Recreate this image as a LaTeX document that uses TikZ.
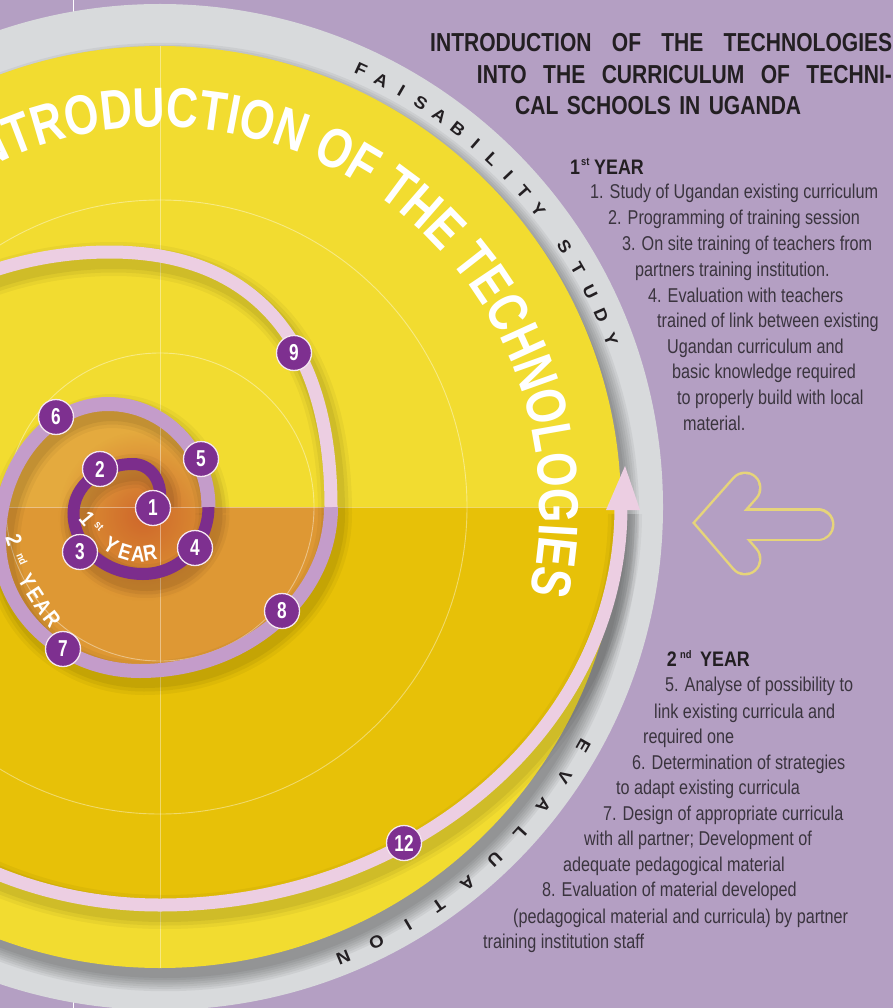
\documentclass[tikz,border=0pt]{standalone}
\usepackage{fontspec}
\setmainfont{Liberation Sans}
\newfontfamily\bigfamily[FakeStretch=0.79]{Liberation Sans}
\newfontfamily\titlefamily[FakeStretch=0.81]{Liberation Sans}
\newfontfamily\headfamily[FakeStretch=0.85]{Liberation Sans}
\newfontfamily\bodyfamily[FakeStretch=0.81]{Liberation Sans}
\newfontfamily\numfamily[FakeStretch=0.75]{Liberation Sans}
\newfontfamily\ringfamily[FakeStretch=1.1]{Liberation Sans}
\usetikzlibrary{calc,decorations.text,fadings}

\definecolor{bgpurple}{RGB}{180,159,195}
\definecolor{ringgray}{RGB}{216,218,220}
\definecolor{yellowtop}{RGB}{242,220,48}
\definecolor{yellowlow}{RGB}{231,193,8}
\definecolor{orangeup}{RGB}{228,170,62}
\definecolor{orangelow}{RGB}{222,152,52}
\definecolor{redorange}{RGB}{205,98,42}
\definecolor{darkpurple}{RGB}{124,45,140}
\definecolor{lilac}{RGB}{196,156,202}
\definecolor{pinkring}{RGB}{236,206,226}
\definecolor{nodepurple}{RGB}{126,48,144}
\definecolor{textdark}{RGB}{35,31,34}
\definecolor{bodytext}{RGB}{58,52,62}
\definecolor{arrowline}{RGB}{230,212,122}

\tikzfading[name=glowfade, inner color=transparent!0, outer color=transparent!100]

\newcommand*\pathDark{(160,-500) .. controls (162,-480) and (150,-464) .. (133,-464) .. controls (100.1,-464) and (73.5,-485.9) .. (73.5,-513) .. controls (73.5,-546.7) and (104.6,-574) .. (143,-574) .. controls (179.2,-574) and (208.5,-544) .. (208.5,-507)}
\newcommand*\pathLilac{(208.5,-507) .. controls (208.5,-450.1) and (163.5,-404) .. (108,-404) .. controls (47.8,-404) and (-1,-464.9) .. (-1,-540) .. controls (-1,-612.4) and (62.1,-671) .. (140,-671) .. controls (245.5,-671) and (331,-597.6) .. (331,-507)}
\newcommand*\pathPink{(331,-507) .. controls (331,-341.3) and (253.7,-252) .. (110,-252) .. controls (-77.8,-252) and (-230,-389.9) .. (-230,-560) .. controls (-230,-750.5) and (-55.4,-905) .. (160,-905) .. controls (414.6,-905) and (621,-726.8) .. (621,-507)}

\begin{document}
\begin{tikzpicture}[x=1pt,y=1pt,
  numnode/.style={circle, fill=nodepurple, draw=pinkring!50!white, line width=1.3pt, minimum size=35pt, inner sep=0pt, text=white, font=\numfamily\bfseries\fontsize{23}{23}\selectfont},
  ringletter/.style={text=textdark, inner sep=0pt, font=\ringfamily\bfseries\fontsize{17}{17}\selectfont},
  yearletter/.style={text=white, inner sep=0pt, font=\headfamily\bfseries\fontsize{22}{22}\selectfont},
  yearsup/.style={text=white, inner sep=0pt, font=\headfamily\bfseries\fontsize{11}{11}\selectfont},
  bodyline/.style={anchor=base west, inner sep=0pt, text=bodytext, font=\bodyfamily\fontsize{20}{24}\selectfont},
  titleline/.style={anchor=base west, inner sep=0pt, text=textdark, font=\titlefamily\bfseries\fontsize{26}{30}\selectfont},
  headline/.style={anchor=base west, inner sep=0pt, text=textdark, font=\headfamily\bfseries\fontsize{21}{24}\selectfont},
  headsup/.style={anchor=base west, inner sep=0pt, text=textdark, font=\headfamily\bfseries\fontsize{11}{12}\selectfont},
  thinline/.style={white, opacity=0.4, line width=0.9pt}
]
\useasboundingbox (0,0) rectangle (893,-1008);
\clip (0,0) rectangle (893,-1008);
\fill[bgpurple] (0,0) rectangle (893,-1008);
\coordinate (C) at (160,-507);

% crop marks
\draw[white, line width=1pt] (73,0) -- (73,-30);
\draw[white, line width=1pt] (73,-980) -- (73,-1008);

% gray ring
\fill[ringgray] (C) circle (503);
\foreach \k in {0,...,6} {
  \fill[black, opacity=0.05] (165,-517) circle ({461+2.2*\k});
}

% yellow disc
\fill[yellowtop] (C) circle (461);
\begin{scope}
  \clip (C) circle (461);
  \fill[yellowlow] (0,-507) -- (621,-507) .. controls (621,-726.8) and (414.6,-905) .. (160,-905) .. controls (-55.4,-905) and (-230,-750.5) .. (-230,-560) -- (-230,-507) -- cycle;
  \fill[orangeup] \pathLilac -- cycle;
  \begin{scope}
    \clip (-10,-507) rectangle (400,-720);
    \fill[orangelow] \pathLilac -- cycle;
  \end{scope}
  \fill[redorange, path fading=glowfade, fill opacity=0.9] (143,-516) circle (85);
  % thin guide lines
  \draw[thinline] (0,-507) -- (621,-507);
  \draw[thinline] (160,-45) -- (160,-968);
  \draw[thinline] (C) circle (154);
  \draw[thinline] (C) circle (307);
\end{scope}

% ring shadows
\begin{scope}[shift={(4,-7)}]
  \foreach \w/\o in {34/0.04,27/0.05,20/0.06} {
    \draw[black, opacity=\o, line width=\w] \pathDark;
    \draw[black, opacity=\o, line width=\w] \pathLilac;
    \draw[black, opacity=\o, line width=\w] \pathPink;
  }
\end{scope}

% spiral rings
\draw[darkpurple, line width=12] \pathDark;
\draw[lilac, line width=14] \pathLilac;
\draw[pinkring, line width=13] \pathPink;
\fill[pinkring] (606,-510) -- (640,-510) -- (625,-466) -- cycle;

% big curved title
\path[decorate, decoration={text along path, text align=left,
  text={|\bigfamily\bfseries\fontsize{56}{60}\selectfont\color{white}|INTRODUCTION OF THE TECHNOLOGIES}}]
  ($(C)+(119.5:380)$) arc[start angle=119.5, end angle=-25, radius=380];

% year labels inside rings
\node[yearletter, rotate=-50] (y1a) at (87,-519) {1};
\node[yearsup, rotate=-45] (y1b) at (99,-526) {st};
\node[yearletter, rotate=-32] (y1c) at (111,-545) {Y};
\node[yearletter, rotate=-17] (y1d) at (125,-552) {E};
\node[yearletter, rotate=-3] (y1e) at (138,-554) {A};
\node[yearletter, rotate=10] (y1f) at (150,-553) {R};

\node[yearletter, rotate=-72] (y2a) at (14,-540) {2};
\node[yearsup, rotate=-66] (y2b) at (22,-559) {nd};
\node[yearletter, rotate=-60] (y2c) at (27,-581) {Y};
\node[yearletter, rotate=-57] (y2d) at (35,-595) {E};
\node[yearletter, rotate=-55] (y2e) at (43,-607) {A};
\node[yearletter, rotate=-52] (y2f) at (52,-619) {R};

% numbered nodes
\node[numnode] (n1) at (153,-508) {1};
\node[numnode] (n2) at (100,-469) {2};
\node[numnode] (n3) at (80,-552) {3};
\node[numnode] (n4) at (195,-548) {4};
\node[numnode] (n5) at (201,-459) {5};
\node[numnode] (n6) at (56,-417) {6};
\node[numnode] (n7) at (63,-649) {7};
\node[numnode] (n8) at (282,-611) {8};
\node[numnode] (n9) at (294,-353) {9};
\node[numnode] (n12) at (404,-843) {12};

% gray ring lettering
\foreach \l [count=\i from 0] in {F,A,I,S,A,B,I,L,I,T,Y} {
  \pgfmathsetmacro\ang{65.3-2.71*\i}
  \node[ringletter, rotate=\ang-90] (fa\i) at ($(C)+(\ang:481)$) {\l};
}
\foreach \l [count=\i from 0] in {S,T,U,D,Y} {
  \pgfmathsetmacro\ang{32.8-3.1*\i}
  \node[ringletter, rotate=\ang-90] (st\i) at ($(C)+(\ang:481)$) {\l};
}
\foreach \l [count=\i from 0] in {E,V,A,L,U,A,T,I,O,N} {
  \pgfmathsetmacro\ang{-29.4-4.27*\i}
  \node[ringletter, rotate=\ang-90] (ev\i) at ($(C)+(\ang:486)$) {\l};
}

% title
\node[titleline] (t1) at (430,-51.7) {\hbox to 462pt{INTRODUCTION\hfill OF\hfill THE\hfill TECHNOLOGIES}};
\node[titleline] (t2) at (476.7,-83.3) {\hbox to 415pt{INTO\hfill THE\hfill CURRICULUM\hfill OF\hfill TECHNI-}};
\node[titleline] (t3) at (515,-115) {\hbox to 286pt{CAL\hfill SCHOOLS\hfill IN\hfill UGANDA}};

% 1st year block
\node[headline] (h1a) at (570,-175) {1};
\node[headsup] (h1b) at (581,-166) {st};
\node[headline] (h1c) at (594,-175) {YEAR};
\node[bodyline] (a1) at (590,-199) {1. Study of Ugandan existing curriculum};
\node[bodyline] (a2) at (608,-225) {2. Programming of training session};
\node[bodyline] (a3) at (622,-251) {3. On site training of teachers from};
\node[bodyline] (a4) at (635,-276) {partners training institution.};
\node[bodyline] (a5) at (648,-302) {4. Evaluation with teachers};
\node[bodyline] (a6) at (657,-327) {trained of link between existing};
\node[bodyline] (a7) at (667,-353) {Ugandan curriculum and};
\node[bodyline] (a8) at (672,-378) {basic knowledge required};
\node[bodyline] (a9) at (677,-404) {to properly build with local};
\node[bodyline] (a10) at (683,-430) {material.};

% 2nd year block
\node[headline] (h2a) at (666.7,-666.7) {2};
\node[headsup] (h2b) at (680,-658) {nd};
\node[headline] (h2c) at (700,-666.7) {YEAR};
\node[bodyline] (b1) at (665,-691.7) {5. Analyse of possibility to};
\node[bodyline] (b2) at (654,-718) {link existing curricula and};
\node[bodyline] (b3) at (643,-743.3) {required one};
\node[bodyline] (b4) at (632,-769) {6. Determination of strategies};
\node[bodyline] (b5) at (616,-794.7) {to adapt existing curricula};
\node[bodyline] (b6) at (603,-820) {7. Design of appropriate curricula};
\node[bodyline] (b7) at (584,-845.7) {with all partner; Development of};
\node[bodyline] (b8) at (563,-871.7) {adequate pedagogical material};
\node[bodyline] (b9) at (542,-896.7) {8. Evaluation of material developed};
\node[bodyline] (b10) at (513,-923) {(pedagogical material and curricula) by partner};
\node[bodyline] (b11) at (483,-948.3) {training institution staff};

% hollow arrow
\coordinate (aU) at (745,-488);
\coordinate (aV) at (714,-523);
\coordinate (aL) at (745,-559);
\coordinate (sL) at (725,-524.5);
\coordinate (sR) at (818,-524.5);
\draw[arrowline, line width=33, line join=miter, line cap=round] (aU) -- (aV) -- (aL);
\draw[arrowline, line width=33, line cap=round] (sL) -- (sR);
\draw[bgpurple, line width=28, line join=miter, line cap=round] (aU) -- (aV) -- (aL);
\draw[bgpurple, line width=28, line cap=round] (sL) -- (sR);
\end{tikzpicture}
\end{document}
